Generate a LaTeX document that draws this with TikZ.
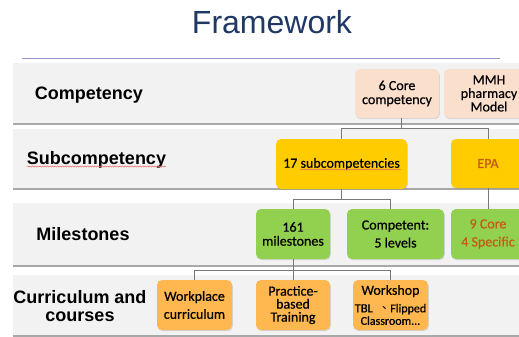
\documentclass[tikz,border=0pt]{standalone}
\usepackage{fontspec}
\setmainfont{Carlito}
\newfontfamily\boxf{Carlito}[FakeBold=0.5]
\newfontfamily\arialf{Liberation Sans}
\newfontfamily\cjkf{Noto Sans CJK TC}
\usetikzlibrary{shadows,decorations.pathmorphing}
\definecolor{titleblue}{RGB}{31,56,100}
\definecolor{rulec}{RGB}{150,150,200}
\definecolor{bandc}{RGB}{242,242,242}
\definecolor{bandline}{RGB}{168,168,168}
\definecolor{peach}{RGB}{251,223,205}
\definecolor{gold}{RGB}{255,204,0}
\definecolor{leaf}{RGB}{146,208,80}
\definecolor{apricot}{RGB}{255,183,80}
\definecolor{rust}{RGB}{197,90,17}
\definecolor{linkc}{RGB}{120,120,120}
\definecolor{squigc}{RGB}{230,110,110}
\tikzset{
  card/.style={rounded corners=5pt, inner sep=0pt, align=center,
    font=\boxf\fontsize{14}{14}\selectfont,
    drop shadow={opacity=0.25, shadow xshift=0.8pt, shadow yshift=-1.2pt}},
  peachcard/.style={card, fill=peach},
  goldcard/.style={card, fill=gold},
  leafcard/.style={card, fill=leaf},
  apricard/.style={card, fill=apricot},
  rowlabel/.style={inner sep=0pt, anchor=base, font=\arialf\bfseries\fontsize{18}{18}\selectfont},
  link/.style={draw=linkc, line width=0.9pt},
  band/.style={fill=bandc},
  bandedge/.style={draw=bandline, line width=1.1pt},
  squig/.style={draw=squigc, line width=0.5pt, decorate,
    decoration={snake, amplitude=0.6pt, segment length=2.5pt}}
}
\begin{document}
\begin{tikzpicture}[x=1pt,y=-1pt]
\useasboundingbox (0,0) rectangle (519,337);
\clip (0,0) rectangle (519,337);
\fill[white] (0,0) rectangle (519,337);

% title
\node[inner sep=0pt, anchor=base, text=titleblue, font=\arialf\fontsize{32}{32}\selectfont] (title) at (272,34) {Framework};
\draw[rulec, line width=0.8pt] (22,58) -- (500,58);

% bands
\fill[band] (13,63) rectangle (519,124);
\draw[bandedge] (13,124) -- (519,124);
\fill[band] (13,129) rectangle (519,189);
\draw[bandedge] (13,189) -- (519,189);
\fill[band] (13,203) rectangle (519,266);
\draw[bandedge] (13,266) -- (519,266);
\fill[band] (13,275) rectangle (519,336);
\draw[bandedge] (13,336) -- (519,336);

% row labels
\node[rowlabel] (lcomp) at (89,99) {Competency};
\node[rowlabel] (lsub) at (96.5,164) {Subcompetency};
\node[rowlabel] (lmile) at (83,240) {Milestones};
\node[rowlabel] (lcurA) at (80,303) {Curriculum and};
\node[rowlabel] (lcurB) at (80,321) {courses};
\draw[squig] ([yshift=-2.5pt]lsub.base west) -- ([yshift=-2.5pt]lsub.base east);

% boxes
\node[peachcard, minimum width=84pt, minimum height=49pt] (core) at (397,93.5) {6 Core\\competency};
\node[peachcard, minimum width=90pt, minimum height=49pt, font=\boxf\fontsize{14}{13.5}\selectfont] (mmh) at (489,93.5) {MMH\\pharmacy\\Model};
\node[goldcard, minimum width=131pt, minimum height=50pt] (sub) at (341.5,164) {17 subcompetencies};
\node[goldcard, minimum width=74pt, minimum height=49pt, text=rust] (epa) at (488,163.5) {EPA};
\node[leafcard, minimum width=74pt, minimum height=50pt] (mile) at (293,234) {161\\milestones};
\node[leafcard, minimum width=97pt, minimum height=50pt, font=\boxf\fontsize{14}{18}\selectfont] (comp) at (395.5,234) {Competent:\\5 levels};
\node[leafcard, minimum width=74pt, minimum height=50pt, text=rust, font=\boxf\fontsize{14}{18}\selectfont] (nine) at (488,234) {9 Core\\4 Specific};
\node[apricard, minimum width=75pt, minimum height=50pt, font=\boxf\fontsize{14}{18}\selectfont] (work) at (194.5,305) {Workplace\\curriculum};
\node[apricard, minimum width=74pt, minimum height=50pt, font=\boxf\fontsize{14}{13}\selectfont] (prac) at (293,305) {Practice-\\based\\Training};
\node[apricard, minimum width=75pt, minimum height=50pt, font=\boxf\fontsize{14}{12.5}\selectfont] (shop) at (390.5,305) {Workshop\\[5pt]{\fontsize{12.5}{12.5}\selectfont TBL}{\fontsize{12}{12.5}\selectfont\ \ {\cjkf 、}Flipped}\\{\fontsize{12}{12.5}\selectfont Classroom...}};
\draw[squig] ([shift={(-41.5,5.5)}]sub.center) -- ([shift={(59.5,5.5)}]sub.center);

% connectors
\draw[link] ([xshift=4pt]core.south) -- ++(0,10) coordinate (j1);
\draw[link] (sub.north) |- (j1) -| (epa.north);
\draw[link] (sub.south) -- ++(0,10) coordinate (j2);
\draw[link] (mile.north) |- (j2) -| ([xshift=-5.5pt]comp.north);
\draw[link] (epa.south) -- (nine.north);
\draw[link] (mile.south) -- ++(0,11) coordinate (j3);
\draw[link] (j3) -- (prac.north);
\draw[link] (work.north) |- (j3) -| (shop.north);
\end{tikzpicture}
\end{document}
